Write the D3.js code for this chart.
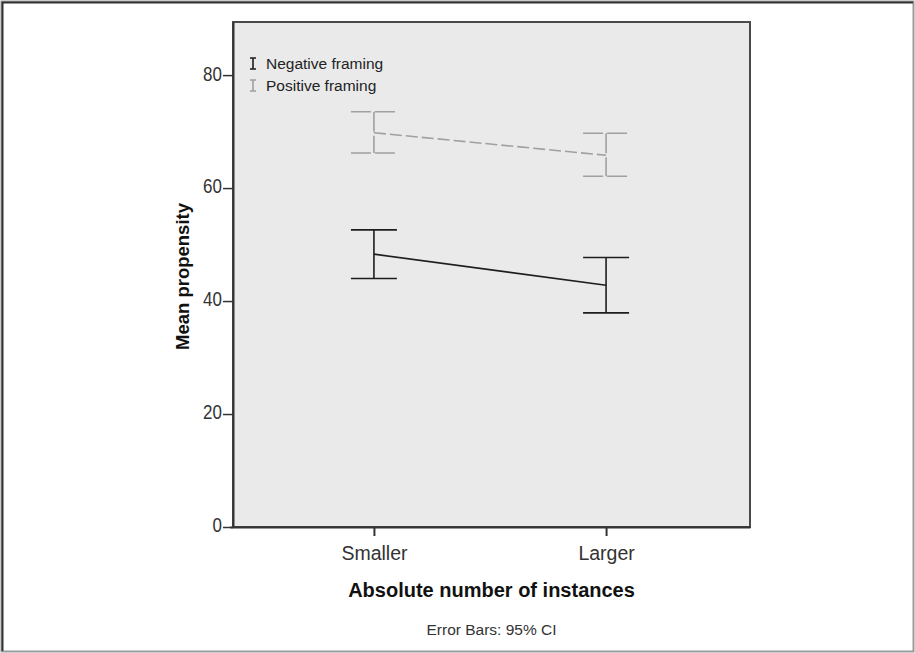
<!DOCTYPE html>
<html>
<head>
<meta charset="utf-8">
<script src="https://cdn.jsdelivr.net/npm/d3@7"></script>
<style>
  html, body { margin: 0; padding: 0; background: #fff; }
  svg { display: block; font-family: Arial, "Liberation Sans", sans-serif; }
</style>
</head>
<body>
<div id="grafica"></div>
<script>
// datos
const categorias = ["Smaller", "Larger"];
const series = ["Negative framing", "Positive framing"];
const mediasNegativo = [48.3, 42.8];
const inferiorNegativo = [44.0, 37.9];
const superiorNegativo = [52.6, 47.7];
const mediasPositivo = [69.8, 65.8];
const inferiorPositivo = [66.2, 62.1];
const superiorPositivo = [73.5, 69.7];
const ticksY = [0, 20, 40, 60, 80];

const datos = [
    { serie: series[0], medias: mediasNegativo, inf: inferiorNegativo, sup: superiorNegativo,
      color: "#1e1e1e", ancho: 1.6, guion: null, guionBarra: null },
    { serie: series[1], medias: mediasPositivo, inf: inferiorPositivo, sup: superiorPositivo,
      color: "#a0a0a0", ancho: 1.6, guion: "12,4", guionBarra: "20,4" }
];

const W = 915, H = 653;
const margin = { top: 22, right: 165, bottom: 126, left: 233 };
const width = W - margin.left - margin.right;
const height = H - margin.top - margin.bottom;

const svg = d3.select("#grafica").append("svg")
    .attr("width", W).attr("height", H);

// marco exterior
svg.append("rect")
    .attr("x", 1.5).attr("y", 1.5).attr("width", W - 3).attr("height", H - 3)
    .attr("fill", "#fff").attr("stroke", "#9a9a9a").attr("stroke-width", 2);
svg.append("path")
    .attr("d", `M2.5,${H - 2}V2.5H${W - 2}`)
    .attr("fill", "none").attr("stroke", "#333").attr("stroke-width", 2);

const g = svg.append("g").attr("transform", `translate(${margin.left},${margin.top})`);

const x = d3.scalePoint().domain(categorias).range([-3, width]).padding(0.62);
const y = d3.scaleLinear().domain([0, 89.4]).range([height, 0]);

g.append("rect")
    .attr("width", width).attr("height", height)
    .attr("fill", "#eaeaea").attr("stroke", "#4a4a4a").attr("stroke-width", 2);

// ejes
const ejeY = g.append("g")
    .call(d3.axisLeft(y).tickValues(ticksY).tickSizeInner(10).tickSizeOuter(0).tickPadding(1));
ejeY.select(".domain").attr("stroke", "#333").attr("stroke-width", 2);
ejeY.selectAll(".tick line").attr("stroke", "#333").attr("stroke-width", 1.5);
ejeY.selectAll("text").attr("fill", "#333").style("font-size", "17px")
    .attr("transform", "scale(1,1.15)").attr("dy", "0.25em");

const ejeX = g.append("g").attr("transform", `translate(0,${height})`)
    .call(d3.axisBottom(x).tickSizeInner(9).tickSizeOuter(0).tickPadding(10));
ejeX.select(".domain").attr("stroke", "#333").attr("stroke-width", 2);
ejeX.selectAll(".tick line").attr("stroke", "#333").attr("stroke-width", 2);
ejeX.selectAll("text").attr("fill", "#333").style("font-size", "19.5px");

// lineas y barras de error
datos.forEach(d => {
    const puntos = categorias.map((c, i) => [x(c), y(d.medias[i])]);
    g.append("path")
        .attr("d", d3.line()(puntos))
        .attr("fill", "none")
        .attr("stroke", d.color)
        .attr("stroke-width", d.ancho)
        .attr("stroke-dasharray", d.guion);

    const barras = g.append("g")
        .attr("stroke", d.color).attr("stroke-width", d.ancho)
        .attr("stroke-dasharray", d.guionBarra).attr("fill", "none");
    categorias.forEach((c, i) => {
        const cx = x(c);
        barras.append("line")
            .attr("x1", cx).attr("x2", cx)
            .attr("y1", y(d.sup[i])).attr("y2", y(d.inf[i]));
        [d.sup[i], d.inf[i]].forEach(v => {
            barras.append("line")
                .attr("x1", cx - 23).attr("x2", cx + 23)
                .attr("y1", y(v)).attr("y2", y(v));
        });
    });
});

// leyenda
const leyenda = g.append("g").attr("transform", "translate(20,47)");
datos.forEach((d, i) => {
    const fila = leyenda.append("g").attr("transform", `translate(0,${i * 22})`);
    fila.append("path")
        .attr("d", "M-3,-11H3M0,-11V0M-3,0H3")
        .attr("stroke", d.color).attr("stroke-width", 1.6).attr("fill", "none");
    fila.append("text")
        .attr("x", 13).attr("y", 0)
        .attr("fill", "#222")
        .style("font-size", "15.5px")
        .text(d.serie);
});

// titulos
svg.append("text")
    .attr("x", margin.left + width / 2).attr("y", 597)
    .attr("text-anchor", "middle")
    .style("font-size", "20px").style("font-weight", "bold").attr("fill", "#111")
    .text("Absolute number of instances");

svg.append("text")
    .attr("transform", `translate(189,${margin.top + height / 2 + 2}) rotate(-90)`)
    .attr("text-anchor", "middle")
    .style("font-size", "18.5px").style("font-weight", "bold").attr("fill", "#111")
    .text("Mean propensity");

svg.append("text")
    .attr("x", margin.left + width / 2).attr("y", 635)
    .attr("text-anchor", "middle")
    .style("font-size", "15.5px").attr("fill", "#333")
    .text("Error Bars: 95% CI");
</script>
</body>
</html>
